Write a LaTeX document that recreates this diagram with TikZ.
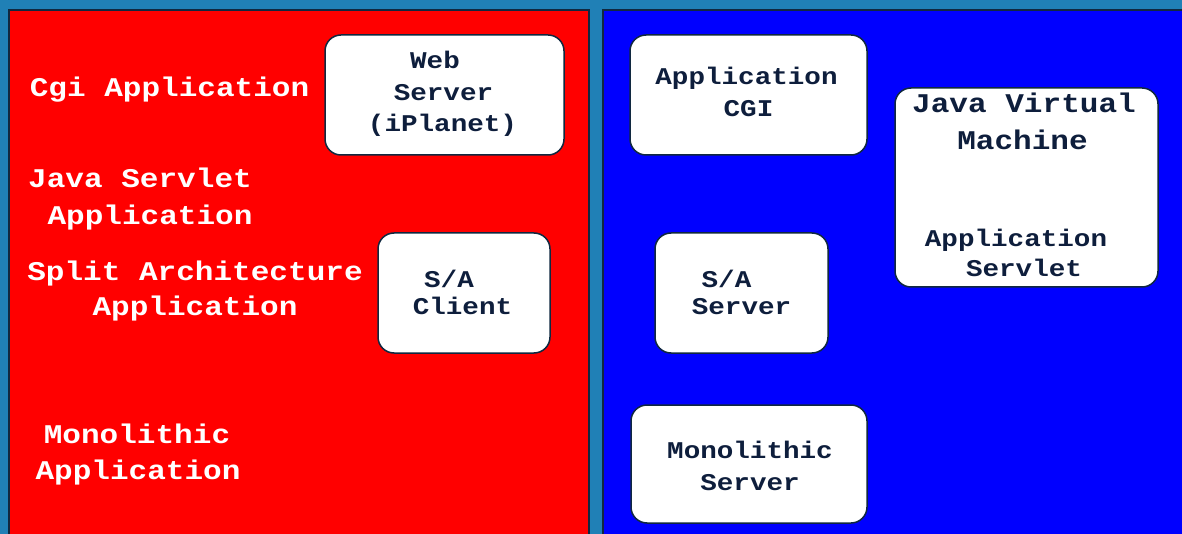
\documentclass[tikz,border=0pt]{standalone}
\usepackage{fontspec}
\newfontfamily\labelfont{Liberation Mono}[FakeStretch=1.15]
\definecolor{frame}{RGB}{32,128,182}
\definecolor{panelred}{RGB}{255,0,0}
\definecolor{panelblue}{RGB}{0,0,255}
\definecolor{ink}{RGB}{14,30,60}
\definecolor{edge}{RGB}{16,40,64}
\tikzset{
  panel/.style={draw=edge, line width=1.2pt},
  appbox/.style={draw=edge, line width=1.5pt, fill=white, rounded corners=16pt, inner sep=0pt},
  lefttext/.style={anchor=base, inner sep=0pt, text=white, font=\labelfont\bfseries\fontsize{27}{27}\selectfont},
  boxtext/.style={anchor=base, inner sep=0pt, text=ink, font=\labelfont\bfseries\fontsize{24}{24}\selectfont},
  bigboxtext/.style={boxtext, font=\labelfont\bfseries\fontsize{27}{27}\selectfont},
}
\begin{document}
\begin{tikzpicture}[x=1pt, y=-1pt]
\useasboundingbox (0,0) rectangle (1182,534);
\fill[frame] (0,0) rectangle (1182,534);
\begin{scope}
\clip (0,0) rectangle (1182,534);
\draw[panel, fill=panelred] (9,10) rectangle (589,545);
\draw[panel, fill=panelblue] (603,10) rectangle (1195,545);
\end{scope}

% left panel: application types
\node[lefttext] (cgi) at (169.5,97) {Cgi Application};
\node[lefttext] (servA) at (140,188) {Java Servlet};
\node[lefttext] (servB) at (150,225) {Application};
\node[lefttext] (splitA) at (195,280) {Split Architecture};
\node[lefttext] (splitB) at (195,316) {Application};
\node[lefttext] (monoA) at (137,443) {Monolithic};
\node[lefttext] (monoB) at (138,479) {Application};

% client-side boxes
\node[appbox, minimum width=239pt, minimum height=120pt] (web) at (444.5,95) {};
\node[boxtext] (webA) at (435,69) {Web};
\node[boxtext] (webB) at (443.5,101) {Server};
\node[boxtext] (webC) at (442.5,132) {(iPlanet)};

\node[appbox, minimum width=172pt, minimum height=120pt] (saclient) at (464,293) {};
\node[boxtext] (sacA) at (449,288) {S/A};
\node[boxtext] (sacB) at (462.5,315) {Client};

% server-side boxes
\node[appbox, minimum width=237pt, minimum height=120pt] (cgiapp) at (748.5,95) {};
\node[boxtext] (cgiA) at (746.5,85) {Application};
\node[boxtext] (cgiB) at (748.5,117) {CGI};

\node[appbox, minimum width=263pt, minimum height=199pt] (jvm) at (1026.5,187.5) {};
\node[bigboxtext] (jvmA) at (1024,113) {Java Virtual};
\node[bigboxtext] (jvmB) at (1022.5,150) {Machine};
\node[boxtext] (jvmC) at (1016,247) {Application};
\node[boxtext] (jvmD) at (1024,277) {Servlet};

\node[appbox, minimum width=173pt, minimum height=120pt] (saserver) at (741.5,293) {};
\node[boxtext] (sasA) at (726.5,288) {S/A};
\node[boxtext] (sasB) at (741.5,315) {Server};

\node[appbox, minimum width=236pt, minimum height=118pt] (monoserver) at (749,464) {};
\node[boxtext] (msA) at (750,458) {Monolithic};
\node[boxtext] (msB) at (750,490) {Server};
\end{tikzpicture}
\end{document}
